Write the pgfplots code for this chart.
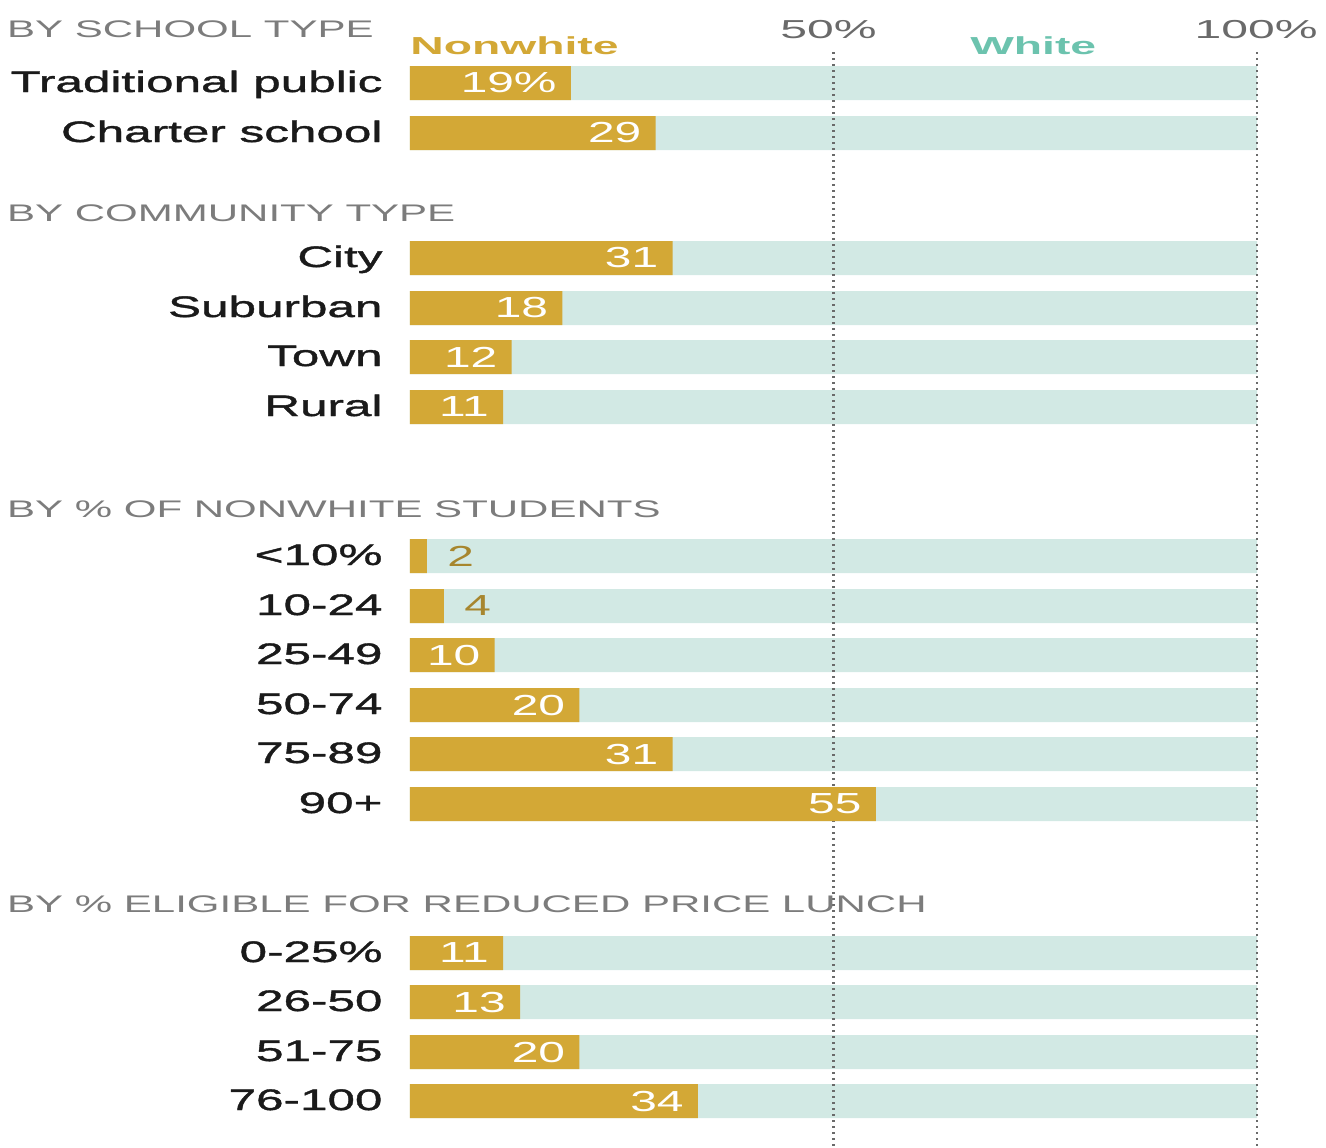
\documentclass[border=0pt]{standalone}
\usepackage{pgfplots}
\pgfplotsset{compat=1.18}
\usepackage{fontspec}
\setmainfont{Liberation Sans}
\newfontfamily\labfamily[FakeStretch=1.67,FakeBold=1.3]{Liberation Sans}
\newfontfamily\numfamily[FakeStretch=1.65]{Liberation Sans}
\newfontfamily\hdrfamily[FakeStretch=1.75]{Liberation Sans}
\newfontfamily\legfamily[FakeStretch=1.88]{Liberation Sans}
\newfontfamily\tickfamily[FakeStretch=1.85]{Liberation Sans}
\newcommand\labfont{\labfamily\fontsize{14.8pt}{16pt}\selectfont}
\newcommand\numfont{\numfamily\fontsize{14.5pt}{16pt}\selectfont}
\newcommand\hdrfont{\hdrfamily\fontsize{12pt}{14pt}\selectfont}
\newcommand\legfont{\legfamily\bfseries\fontsize{12.3pt}{14pt}\selectfont}
\newcommand\tickfont{\tickfamily\fontsize{13pt}{15pt}\selectfont}
\definecolor{nwgold}{HTML}{D3A836}
\definecolor{wteal}{HTML}{D2E9E4}
\definecolor{wlabel}{HTML}{6CC3AE}
\definecolor{hdrgray}{HTML}{7C7C7C}
\definecolor{tickgray}{HTML}{6A6A6A}
\definecolor{outgold}{HTML}{A7862E}
\definecolor{labblack}{HTML}{1A1A1A}
\begin{document}
\begin{tikzpicture}[
  cat/.style={anchor=base east, inner sep=0pt, text=labblack, font=\labfont},
  hdr/.style={anchor=base west, inner sep=0pt, text=hdrgray, font=\hdrfont}]
\useasboundingbox (-205pt,0pt) rectangle (458pt,573.5pt);
\begin{axis}[
  at={(0pt,0pt)}, anchor=south west,
  scale only axis, width=423.5pt, height=573.5pt,
  xmin=0, xmax=100, ymin=0, ymax=1147, y dir=reverse,
  axis lines=none, clip=false,
  xbar, bar width=17pt, bar shift=0pt,
]
\addplot[fill=wteal, draw=none] coordinates {
 (100,83) (100,133) (100,258) (100,308) (100,357) (100,407)
 (100,556) (100,606) (100,655) (100,705) (100,754) (100,804)
 (100,953) (100,1002) (100,1052) (100,1101)};
\draw[tickgray, line width=1.1pt, dash pattern=on 1pt off 2pt] (axis cs:50,52) -- (axis cs:50,1147);
\draw[tickgray, line width=1.1pt, dash pattern=on 1pt off 2pt] (axis cs:100,52) -- (axis cs:100,1147);
\addplot[fill=nwgold, draw=none, nodes near coords, point meta=explicit symbolic,
  nodes near coords align={anchor=east},
  nodes near coords style={anchor=east, inner sep=0pt, xshift=-7pt, text=white, font=\numfont}]
  coordinates {
 (19,83) [19\%] (29,133) [29] (31,258) [31] (18,308) [18] (12,357) [12] (11,407) [11]
 (10,655) [10] (20,705) [20] (31,754) [31] (55,804) [55]
 (11,953) [11] (13,1002) [13] (20,1052) [20] (34,1101) [34]};
\addplot[fill=nwgold, draw=none, nodes near coords, point meta=explicit symbolic,
  nodes near coords align={anchor=west},
  nodes near coords style={anchor=west, inner sep=0pt, xshift=10pt, text=outgold, font=\numfont}]
  coordinates {(2,556) [2] (4,606) [4]};
% headers
\node[hdr] at (axis cs:-47.6,37) {BY SCHOOL TYPE};
\node[hdr] at (axis cs:-47.6,221) {BY COMMUNITY TYPE};
\node[hdr] at (axis cs:-47.6,517) {BY \% OF NONWHITE STUDENTS};
\node[hdr] at (axis cs:-47.6,912) {BY \% ELIGIBLE FOR REDUCED PRICE LUNCH};
% legend-like labels
\node[anchor=base west, inner sep=0pt, text=nwgold, font=\legfont] at (axis cs:0,54) {Nonwhite};
\node[anchor=base west, inner sep=0pt, text=wlabel, font=\legfont] at (axis cs:66.1,54) {White};
\node[anchor=base, inner sep=0pt, text=tickgray, font=\tickfont] at (axis cs:49.4,38) {50\%};
\node[anchor=base, inner sep=0pt, text=tickgray, font=\tickfont] at (axis cs:99.9,38) {100\%};
% category labels
\node[cat] at (axis cs:-3.2,92) {Traditional public};
\node[cat] at (axis cs:-3.2,142) {Charter school};
\node[cat] at (axis cs:-3.2,267) {City};
\node[cat] at (axis cs:-3.2,317) {Suburban};
\node[cat] at (axis cs:-3.2,366) {Town};
\node[cat] at (axis cs:-3.2,416) {Rural};
\node[cat] at (axis cs:-3.2,565) {<10\%};
\node[cat] at (axis cs:-3.2,615) {10-24};
\node[cat] at (axis cs:-3.2,664) {25-49};
\node[cat] at (axis cs:-3.2,714) {50-74};
\node[cat] at (axis cs:-3.2,763) {75-89};
\node[cat] at (axis cs:-3.2,813) {90+};
\node[cat] at (axis cs:-3.2,962) {0-25\%};
\node[cat] at (axis cs:-3.2,1011) {26-50};
\node[cat] at (axis cs:-3.2,1061) {51-75};
\node[cat] at (axis cs:-3.2,1110) {76-100};
\end{axis}
\end{tikzpicture}
\end{document}
